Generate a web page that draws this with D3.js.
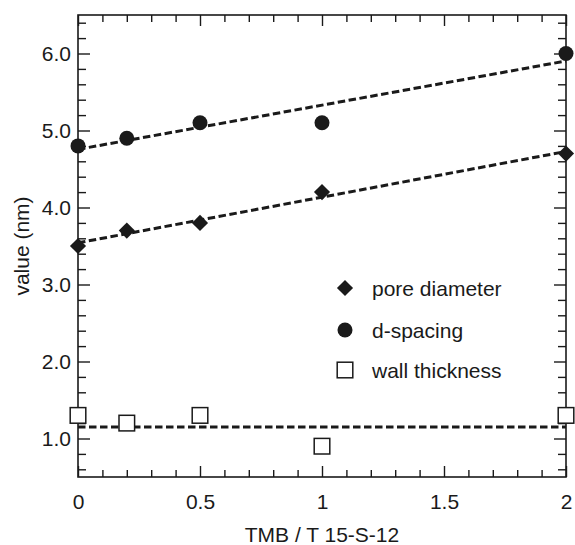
<!DOCTYPE html>
<html><head><meta charset="utf-8">
<script src="https://cdn.jsdelivr.net/npm/d3@7"></script>
<style>body{margin:0;background:#fff}svg{display:block}text{font-family:"Liberation Sans",Arial,sans-serif;fill:#1a1a1a}</style>
</head><body>
<svg id="c" width="575" height="545"></svg>
<script>
const ratios = [0, 0.2, 0.5, 1, 2];
const poreDiameter = [3.5, 3.7, 3.8, 4.2, 4.7];
const dSpacing = [4.8, 4.9, 5.1, 5.1, 6.0];
const wallThickness = [1.3, 1.2, 1.3, 0.9, 1.3];
const wallFitLevel = 1.15;
const xMajorTicks = [0, 0.5, 1, 1.5, 2];
const xTickLabels = ["0", "0.5", "1", "1.5", "2"];
const yMajorTicks = [1, 2, 3, 4, 5, 6];
const yTickLabels = ["1.0", "2.0", "3.0", "4.0", "5.0", "6.0"];
const legendLabels = ["pore diameter", "d-spacing", "wall thickness"];

const svg = d3.select("#c");
const L = 78, R = 566, T = 15, B = 477;
const x = d3.scaleLinear().domain([0, 2]).range([L, R]);
const y = d3.scaleLinear().domain([0.5, 6.5]).range([B, T]);
const ink = "#1a1a1a";
const FS = 21;

const xMinor = d3.range(0, 2.0001, 0.1).map(v => +v.toFixed(2)).filter(v => !xMajorTicks.includes(v));
const yMinor = d3.range(0.6, 6.5, 0.2).map(v => +v.toFixed(2)).filter(v => !yMajorTicks.includes(v));

function styleAxis(g) {
  g.select(".domain").remove();
  g.selectAll("line").attr("stroke", ink).attr("stroke-width", 1.4);
  g.selectAll("text").attr("font-size", FS).attr("fill", ink).style("font-family", '"Liberation Sans",Arial,sans-serif');
}
// bottom
svg.append("g").attr("transform", `translate(0,${B})`)
  .call(d3.axisBottom(x).tickValues(xMajorTicks).tickSize(-11).tickPadding(17).tickFormat((d, i) => xTickLabels[i]))
  .call(styleAxis);
svg.append("g").attr("transform", `translate(0,${B})`)
  .call(d3.axisBottom(x).tickValues(xMinor).tickSize(-7).tickFormat(""))
  .call(styleAxis);
// top
svg.append("g").attr("transform", `translate(0,${T})`)
  .call(d3.axisTop(x).tickValues(xMajorTicks).tickSize(-11).tickFormat(""))
  .call(styleAxis);
svg.append("g").attr("transform", `translate(0,${T})`)
  .call(d3.axisTop(x).tickValues(xMinor).tickSize(-7).tickFormat(""))
  .call(styleAxis);
// left
svg.append("g").attr("transform", `translate(${L},0)`)
  .call(d3.axisLeft(y).tickValues(yMajorTicks).tickSize(-12).tickPadding(7).tickFormat((d, i) => yTickLabels[i]))
  .call(styleAxis);
svg.append("g").attr("transform", `translate(${L},0)`)
  .call(d3.axisLeft(y).tickValues(yMinor).tickSize(-8).tickFormat(""))
  .call(styleAxis);
// right
svg.append("g").attr("transform", `translate(${R},0)`)
  .call(d3.axisRight(y).tickValues(yMajorTicks).tickSize(-12).tickFormat(""))
  .call(styleAxis);
svg.append("g").attr("transform", `translate(${R},0)`)
  .call(d3.axisRight(y).tickValues(yMinor).tickSize(-8).tickFormat(""))
  .call(styleAxis);

svg.append("rect").attr("x", L).attr("y", T).attr("width", R - L).attr("height", B - T)
  .attr("fill", "none").attr("stroke", ink).attr("stroke-width", 1.6);

// axis titles
svg.append("text").attr("x", x(1)).attr("y", 542).attr("text-anchor", "middle").attr("font-size", FS).text("TMB / T 15-S-12");
svg.append("text").attr("transform", `translate(29,${y(3.5)}) rotate(-90)`).attr("text-anchor", "middle").attr("font-size", FS).text("value (nm)");

// linear fits
function fit(xs, ys) {
  const mx = d3.mean(xs), my = d3.mean(ys);
  const sxy = d3.sum(xs, (v, i) => (v - mx) * (ys[i] - my));
  const sxx = d3.sum(xs, v => (v - mx) ** 2);
  const b = sxy / sxx;
  return [my - b * mx, b];
}
const line = d3.line().x(d => x(d[0])).y(d => y(d[1]));
function drawFit(a, b) {
  svg.append("path").datum([[0, a], [2, a + 2 * b]]).attr("d", line)
    .attr("fill", "none").attr("stroke", ink).attr("stroke-width", 3).attr("stroke-dasharray", "7.5,3.5");
}
const fp = fit(ratios, poreDiameter);
const fd = fit(ratios, dSpacing);
drawFit(fp[0], fp[1]);
drawFit(fd[0], fd[1]);
drawFit(wallFitLevel, 0);

function drawDiamond(cx, cy) {
  svg.append("path").attr("d", d3.symbol().type(d3.symbolSquare).size(130)())
    .attr("transform", `translate(${cx},${cy}) rotate(45)`).attr("fill", ink);
}
function drawCircle(cx, cy) {
  svg.append("circle").attr("cx", cx).attr("cy", cy).attr("r", 7.5).attr("fill", ink);
}
function drawSquare(cx, cy) {
  svg.append("rect").attr("x", cx - 7.8).attr("y", cy - 7.8).attr("width", 15.6).attr("height", 15.6)
    .attr("fill", "#fff").attr("stroke", ink).attr("stroke-width", 1.5);
}
ratios.forEach((r, i) => {
  drawDiamond(x(r), y(poreDiameter[i]));
  drawCircle(x(r), y(dSpacing[i]));
  drawSquare(x(r), y(wallThickness[i]));
});

// legend
const legX = 345, legTx = 372, legY = [288, 330, 370];
drawDiamond(legX, legY[0]);
drawCircle(legX, legY[1]);
drawSquare(legX, legY[2]);
legendLabels.forEach((t, i) => {
  svg.append("text").attr("x", legTx).attr("y", legY[i]).attr("dy", "0.36em").attr("font-size", FS).text(t);
});
</script>
</body></html>
